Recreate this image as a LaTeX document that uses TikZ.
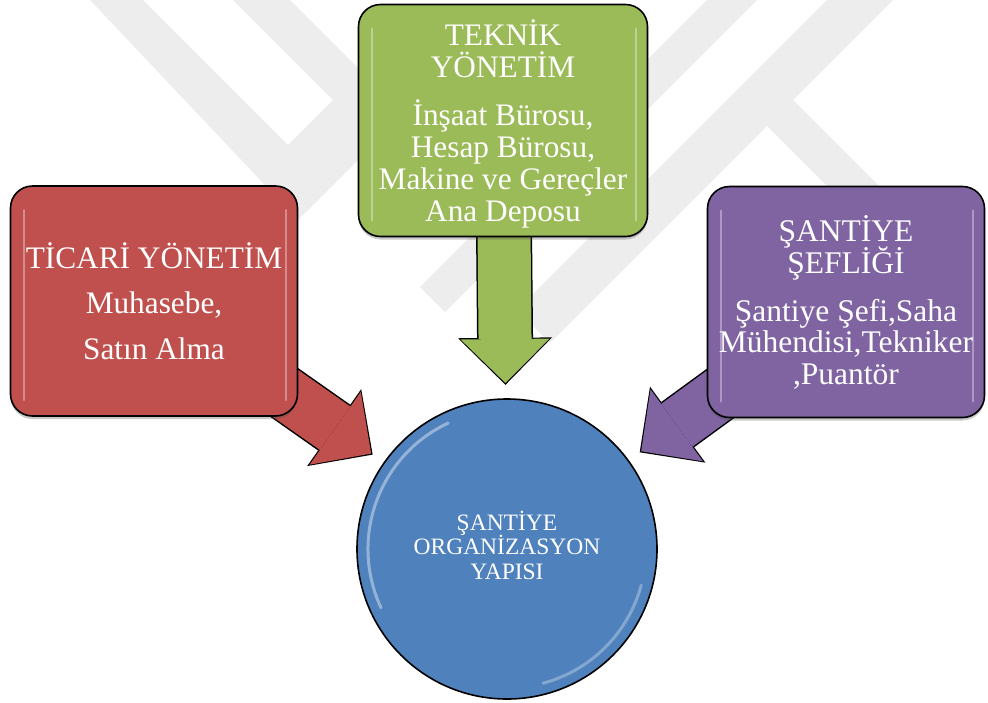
\documentclass[tikz,border=0pt]{standalone}
\usepackage{fontspec}
\setmainfont{Liberation Serif}
\usetikzlibrary{calc,arrows.meta,shadows,backgrounds}

\definecolor{ticari}{HTML}{C0504D}
\definecolor{teknik}{HTML}{9BBB59}
\definecolor{sefl}{HTML}{8064A2}
\definecolor{merkez}{HTML}{4F81BD}
\definecolor{filigran}{HTML}{EDEDED}
\lineskiplimit=-50pt

\begin{document}
\begin{tikzpicture}[
			x=1pt, y=-1pt,
			birim/.style={draw=black, line width=1.6pt, rounded corners=22pt, text=white, align=center, inner sep=2pt,
				drop shadow={shadow xshift=0pt, shadow yshift=-3pt, opacity=.3, fill=black!70},
				path picture={
					\draw[white, opacity=.35, line width=2pt, line cap=round]
						([xshift=13pt,yshift=-24pt]path picture bounding box.north west) -- ([xshift=13pt,yshift=16pt]path picture bounding box.south west)
						([xshift=-12pt,yshift=-24pt]path picture bounding box.north east) -- ([xshift=-12pt,yshift=16pt]path picture bounding box.south east);
				}},
			hub/.style={circle, draw=black, line width=1.6pt, fill=merkez, minimum size=300pt, text=white, align=center,
				font=\fontsize{23.5}{24.5}\selectfont, text depth=8pt,
				path picture={
					\draw[white, opacity=.4, line width=3pt, line cap=round]
						([shift={(115:139pt)}]path picture bounding box.center) arc[start angle=115, end angle=205, radius=139pt];
					\draw[white, opacity=.3, line width=3pt, line cap=round]
						([shift={(285:139pt)}]path picture bounding box.center) arc[start angle=285, end angle=345, radius=139pt];
				}},
			okdis/.style={line width=56pt, black, shorten >=-1.8pt, -{Triangle[length=47pt,width=94pt,line width=0pt]}},
			okic/.style={line width=53pt, -{Triangle[length=44pt,width=89pt,line width=0pt]}}
			]
	
	%% kutular
	\node[birim, fill=ticari, minimum width=287pt, minimum height=230pt, font=\fontsize{31.3}{45.5}\selectfont] (tic) at (154,301)
		{TİCARİ YÖNETİM\\Muhasebe,\\Satın Alma};
	\node[birim, fill=teknik, minimum width=289pt, minimum height=232pt, font=\fontsize{31.3}{32.2}\selectfont, text depth=0pt] (tek) at (503,120.5)
		{TEKNİK\\YÖNETİM\\[15.7pt]İnşaat Bürosu,\\Hesap Bürosu,\\Makine ve Gereçler\\Ana Deposu};
	\node[birim, fill=sefl, minimum width=277pt, minimum height=231pt, font=\fontsize{31.5}{31.3}\selectfont] (sef) at (846,302)
		{ŞANTİYE\\[1.2pt]ŞEFLİĞİ\\[16.7pt]Şantiye Şefi,Saha\\Mühendisi,Tekniker\\,Puantör};
	
	%% merkez daire
	\node[hub] (org) at (507,549) {ŞANTİYE\\ORGANİZASYON\\YAPISI};
	
	\begin{scope}[on background layer]
		% filigran
		\fill[filigran] (90,0) -- (143,0) -- (288,145) -- (333,100) -- (233,0) -- (290,0) -- (358,68) -- (358,160) -- (298,220) -- cycle;
		\fill[filigran] (707,0) -- (757,0) -- (445,312) -- (420,287) -- cycle;
		\fill[filigran] (827,0) -- (893,0) -- (550,343) -- (517,310) -- cycle;
		\fill[filigran] (767,126) -- (793,100) -- (890,197) -- (838,197) -- cycle;
		
		% oklar: kutudan daireye
		\draw[okdis] (tic.center) -- ($(org)!166pt!(tic.center)$);
		\draw[okic, ticari] (tic.center) -- ($(org)!166pt!(tic.center)$);
		\draw[okdis] (tek.center) -- ($(org)!166pt!(tek.center)$);
		\draw[okic, teknik] (tek.center) -- ($(org)!166pt!(tek.center)$);
		\draw[okdis] (sef.center) -- ($(org)!166pt!(sef.center)$);
		\draw[okic, sefl] (sef.center) -- ($(org)!166pt!(sef.center)$);
	\end{scope}
	
	\useasboundingbox (0,0) rectangle (988,702);
\end{tikzpicture}
\end{document}
